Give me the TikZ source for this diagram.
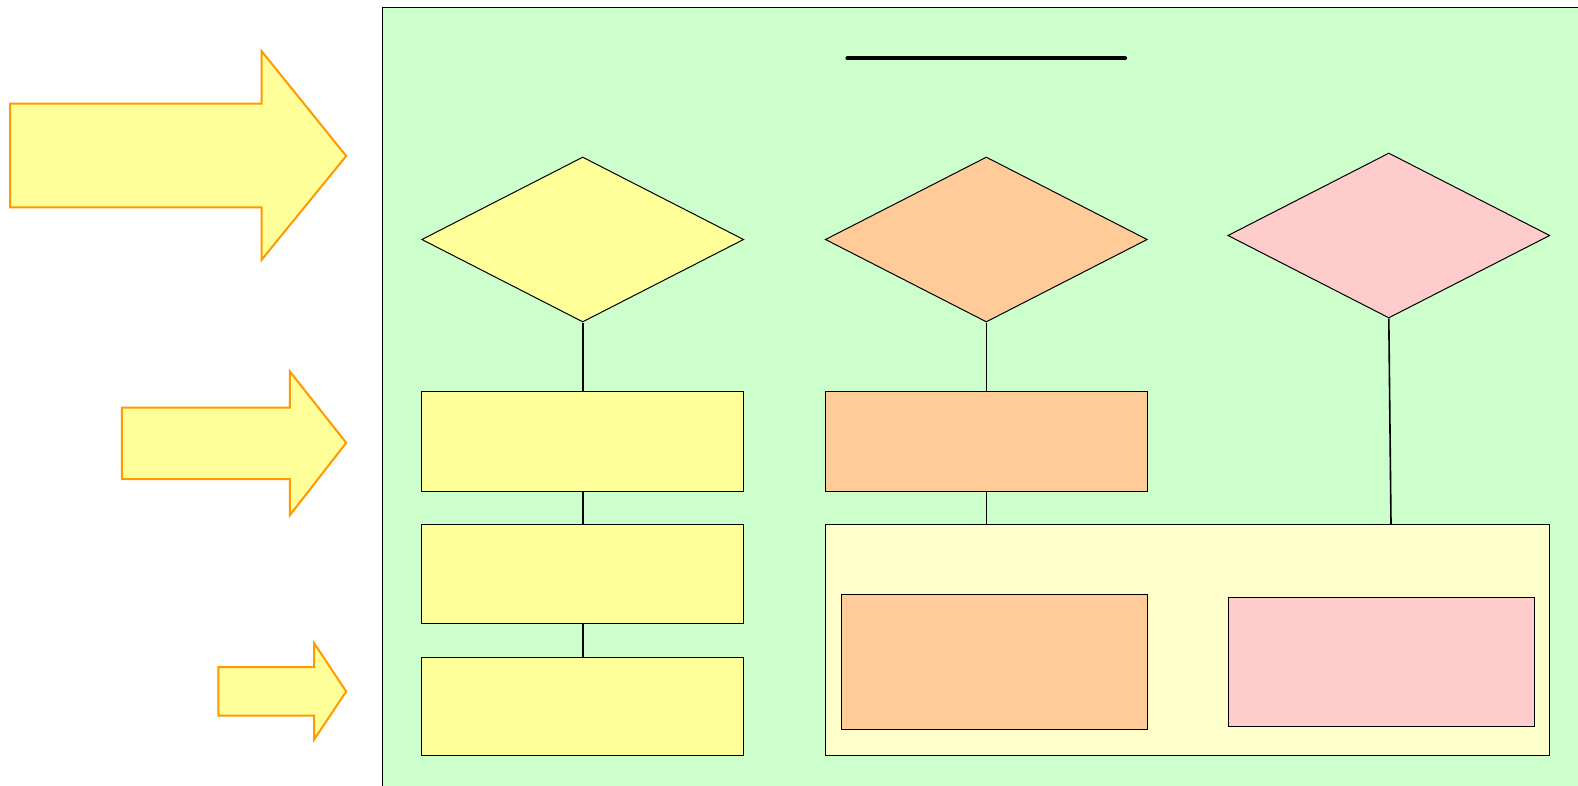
\documentclass[tikz,border=0pt]{standalone}
\usetikzlibrary{shapes.geometric}
\definecolor{bggreen}{HTML}{CCFFCC}
\definecolor{ylw}{HTML}{FFFF99}
\definecolor{org}{HTML}{FFCC99}
\definecolor{pnk}{HTML}{FFCCCC}
\definecolor{lylw}{HTML}{FFFFCC}
\definecolor{arrowline}{HTML}{FF9900}
\begin{document}
\begin{tikzpicture}[x=0.5pt,y=-0.5pt,
  boxshape/.style={rectangle,draw=black,line width=0.5pt,inner sep=0pt},
  diashape/.style={diamond,draw=black,line width=0.5pt,inner sep=0pt,minimum width=161pt,minimum height=82.5pt},
  bigarrow/.style={draw=arrowline,fill=ylw,line width=1pt,line join=miter},
  link/.style={draw=black,line width=0.8pt}]
\useasboundingbox (0,0) rectangle (1578,786);
\begin{scope}
\clip (0,0) rectangle (1578,786);
\node[boxshape,fill=bggreen,anchor=north west,minimum width=650pt,minimum height=400pt] (panel) at (382.4,7) {};
\end{scope}
% arrows
\draw[bigarrow] (10.1,103.7) -- (261.7,103.7) -- (261.7,51.3) -- (346.2,156) -- (261.7,259.7) -- (261.7,207.3) -- (10.1,207.3) -- cycle;
\draw[bigarrow] (121.8,407.6) -- (289.8,407.6) -- (289.8,371.4) -- (346.2,442.8) -- (289.8,515.3) -- (289.8,479) -- (121.8,479) -- cycle;
\draw[bigarrow] (218.4,667.2) -- (314,667.2) -- (314,643) -- (346.2,691.4) -- (314,739.7) -- (314,715.5) -- (218.4,715.5) -- cycle;
% title rule
\coordinate (tl) at (847.4,58.4);
\coordinate (tr) at (1125.1,58.4);
\draw[line width=2pt,line cap=round] (tl) -- (tr);
% diamonds
\node[diashape,fill=ylw] (d1) at (582.7,239.5) {};
\node[diashape,fill=org] (d2) at (986.3,239.5) {};
\node[diashape,fill=pnk] (d3) at (1388.8,235.5) {};
% boxes
\node[boxshape,fill=ylw,minimum width=161pt,minimum height=49.8pt] (b1) at (582.7,441.3) {};
\node[boxshape,fill=ylw,minimum width=161pt,minimum height=49.35pt] (b2) at (582.7,573.65) {};
\node[boxshape,fill=ylw,minimum width=161pt,minimum height=49.3pt] (b3) at (582.7,706.5) {};
\node[boxshape,fill=org,minimum width=161pt,minimum height=49.8pt] (o1) at (986.3,441.3) {};
\node[boxshape,fill=lylw,minimum width=362.35pt,minimum height=115.75pt] (big) at (1187.55,640.05) {};
\node[boxshape,fill=org,minimum width=152.85pt,minimum height=67.7pt] (io) at (994.55,662) {};
\node[boxshape,fill=pnk,minimum width=153.1pt,minimum height=64.7pt] (ip) at (1381.4,662) {};
% connectors
\coordinate (c2) at (986.3,524.3);
\coordinate (c3) at (1391,524.3);
\draw[link] (d1.south) -- (b1.north);
\draw[link] (b1.south) -- (b2.north);
\draw[link] (b2.south) -- (b3.north);
\draw[link] (d2.south) -- (o1.north);
\draw[link] (o1.south) -- (c2);
\draw[link] (d3.south) -- (c3);
\end{tikzpicture}
\end{document}
